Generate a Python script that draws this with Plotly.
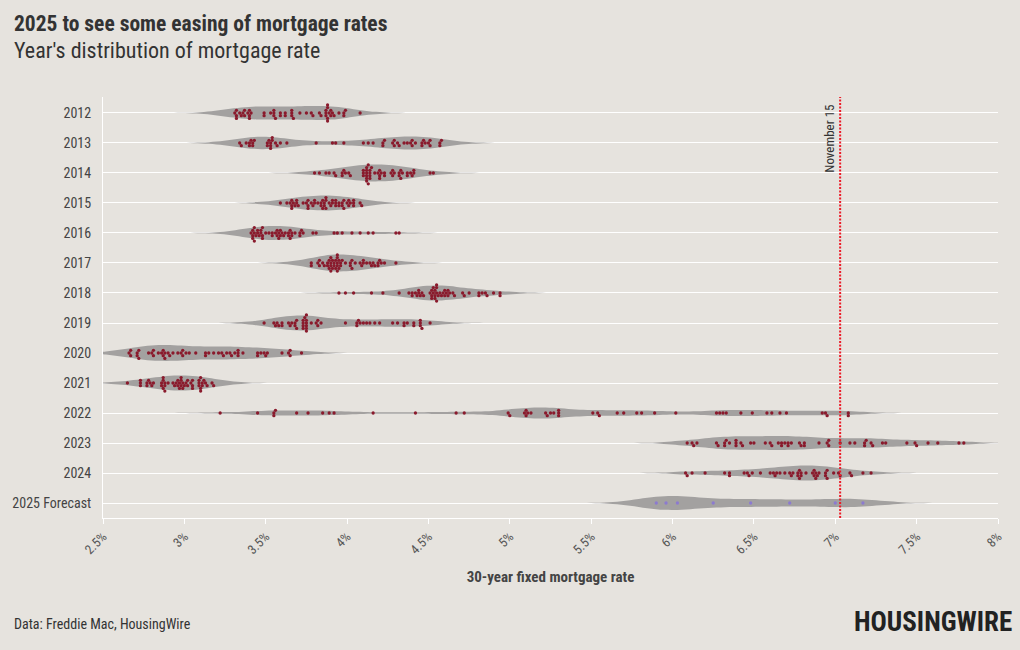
import numpy as np
import plotly.graph_objects as go

# ---------------- data (weekly 30-year fixed rates, %) ----------------
years = ["2012", "2013", "2014", "2015", "2016", "2017", "2018", "2019",
         "2020", "2021", "2022", "2023", "2024", "2025 Forecast"]

r2012 = [3.91, 3.89, 3.88, 3.98, 3.87, 3.87, 3.87, 3.95, 3.90, 3.88, 3.92, 4.08, 3.99,
         3.98, 3.88, 3.90, 3.88, 3.84, 3.83, 3.79, 3.78, 3.75, 3.67, 3.71, 3.66, 3.66,
         3.62, 3.56, 3.53, 3.49, 3.55, 3.59, 3.62, 3.66, 3.59, 3.55, 3.55, 3.49, 3.40,
         3.36, 3.39, 3.37, 3.41, 3.40, 3.40, 3.34, 3.31, 3.32, 3.32, 3.32, 3.37, 3.35]
r2013 = [3.34, 3.40, 3.38, 3.42, 3.53, 3.53, 3.53, 3.56, 3.51, 3.52, 3.63, 3.54, 3.57,
         3.54, 3.43, 3.41, 3.40, 3.35, 3.42, 3.51, 3.59, 3.81, 3.91, 3.98, 3.93, 4.46,
         4.29, 4.51, 4.37, 4.31, 4.39, 4.40, 4.40, 4.58, 4.51, 4.57, 4.57, 4.50, 4.32,
         4.22, 4.23, 4.28, 4.13, 4.10, 4.16, 4.35, 4.22, 4.29, 4.46, 4.42, 4.47, 4.48]
r2014 = [4.53, 4.51, 4.41, 4.39, 4.32, 4.23, 4.28, 4.33, 4.37, 4.28, 4.37, 4.32, 4.40,
         4.41, 4.34, 4.27, 4.33, 4.29, 4.21, 4.20, 4.14, 4.12, 4.14, 4.20, 4.17, 4.14,
         4.12, 4.15, 4.13, 4.13, 4.12, 4.14, 4.12, 4.10, 4.10, 4.10, 4.12, 4.23, 4.20,
         4.19, 4.12, 3.97, 3.92, 3.98, 4.02, 4.01, 3.99, 3.97, 3.89, 3.93, 3.80, 3.83, 3.87]
r2015 = [3.73, 3.66, 3.63, 3.66, 3.59, 3.69, 3.76, 3.80, 3.75, 3.86, 3.78, 3.69, 3.70,
         3.66, 3.67, 3.65, 3.68, 3.80, 3.85, 3.84, 3.87, 3.87, 4.04, 4.00, 4.02, 4.08,
         4.04, 4.09, 4.04, 3.98, 3.91, 3.93, 3.93, 3.84, 3.89, 3.90, 3.91, 3.86, 3.85,
         3.76, 3.82, 3.79, 3.76, 3.87, 3.98, 3.97, 3.95, 3.93, 3.95, 3.97, 4.01, 4.01]
r2016 = [3.97, 3.92, 3.81, 3.79, 3.72, 3.65, 3.65, 3.62, 3.64, 3.68, 3.73, 3.71, 3.71,
         3.59, 3.58, 3.59, 3.66, 3.61, 3.57, 3.58, 3.64, 3.66, 3.60, 3.54, 3.56, 3.48,
         3.41, 3.42, 3.45, 3.48, 3.43, 3.45, 3.43, 3.43, 3.46, 3.44, 3.50, 3.48, 3.42,
         3.42, 3.47, 3.52, 3.47, 3.54, 3.57, 3.94, 4.03, 4.08, 4.13, 4.16, 4.30, 4.32]
r2017 = [4.20, 4.12, 4.09, 4.19, 4.19, 4.17, 4.15, 4.16, 4.10, 4.21, 4.30, 4.23, 4.14,
         4.10, 4.08, 3.97, 4.03, 4.02, 4.05, 4.02, 3.95, 3.94, 3.89, 3.91, 3.90, 3.88,
         3.96, 4.03, 3.96, 3.92, 3.93, 3.90, 3.89, 3.86, 3.82, 3.78, 3.78, 3.83, 3.83,
         3.85, 3.91, 3.88, 3.94, 3.94, 3.90, 3.95, 3.92, 3.90, 3.94, 3.93, 3.94, 3.99]
r2018 = [3.95, 3.99, 4.04, 4.15, 4.22, 4.32, 4.38, 4.40, 4.43, 4.46, 4.44, 4.45, 4.44,
         4.40, 4.42, 4.47, 4.58, 4.55, 4.55, 4.61, 4.66, 4.56, 4.54, 4.62, 4.57, 4.55,
         4.52, 4.53, 4.52, 4.54, 4.60, 4.59, 4.53, 4.51, 4.52, 4.54, 4.60, 4.65, 4.72,
         4.71, 4.90, 4.85, 4.86, 4.83, 4.94, 4.94, 4.81, 4.81, 4.75, 4.63, 4.62, 4.55]
r2019 = [4.51, 4.45, 4.45, 4.45, 4.46, 4.41, 4.37, 4.35, 4.35, 4.41, 4.31, 4.28, 4.06,
         4.08, 4.12, 4.17, 4.20, 4.14, 4.10, 4.07, 4.06, 3.99, 3.82, 3.82, 3.84, 3.73,
         3.75, 3.75, 3.81, 3.75, 3.75, 3.60, 3.60, 3.55, 3.58, 3.49, 3.56, 3.73, 3.64,
         3.65, 3.57, 3.69, 3.75, 3.78, 3.69, 3.75, 3.66, 3.68, 3.68, 3.73, 3.73, 3.74]
r2020 = [3.72, 3.64, 3.65, 3.60, 3.51, 3.45, 3.47, 3.49, 3.45, 3.29, 3.36, 3.65, 3.50,
         3.33, 3.33, 3.31, 3.33, 3.23, 3.26, 3.28, 3.24, 3.15, 3.18, 3.21, 3.13, 3.13,
         3.07, 3.03, 2.98, 3.01, 2.99, 2.88, 2.96, 2.99, 2.91, 2.93, 2.86, 2.87, 2.90,
         2.88, 2.87, 2.81, 2.80, 2.81, 2.78, 2.84, 2.72, 2.72, 2.71, 2.71, 2.67, 2.66, 2.67]
r2021 = [2.65, 2.79, 2.77, 2.73, 2.73, 2.73, 2.81, 2.97, 3.02, 3.05, 3.09, 3.17, 3.18,
         3.13, 3.04, 2.97, 2.98, 2.96, 2.94, 3.00, 2.95, 2.99, 2.96, 2.93, 3.02, 2.98,
         2.90, 2.88, 2.78, 2.80, 2.77, 2.87, 2.86, 2.87, 2.87, 2.88, 2.86, 2.88, 3.01,
         2.99, 3.05, 3.09, 3.14, 3.09, 2.98, 3.10, 3.10, 3.11, 3.10, 3.12, 3.05, 3.11]
r2022 = [3.22, 3.45, 3.56, 3.55, 3.55, 3.69, 3.92, 3.89, 3.76, 3.85, 4.16, 4.42, 4.67,
         4.72, 5.00, 5.11, 5.10, 5.27, 5.30, 5.25, 5.10, 5.09, 5.23, 5.78, 5.81, 5.70,
         5.30, 5.51, 5.54, 5.30, 4.99, 5.22, 5.13, 5.55, 5.66, 5.89, 6.02, 6.29, 6.70,
         6.66, 6.92, 6.94, 7.08, 6.95, 7.08, 6.61, 6.58, 6.49, 6.33, 6.31, 6.27, 6.42]
r2023 = [6.48, 6.33, 6.15, 6.13, 6.09, 6.12, 6.32, 6.50, 6.65, 6.73, 6.60, 6.42, 6.32,
         6.28, 6.27, 6.39, 6.43, 6.39, 6.35, 6.39, 6.57, 6.79, 6.71, 6.69, 6.67, 6.71,
         6.81, 6.96, 6.78, 6.81, 6.90, 6.96, 7.09, 7.23, 7.18, 7.12, 7.18, 7.19, 7.31,
         7.49, 7.57, 7.63, 7.79, 7.76, 7.50, 7.44, 7.29, 7.22, 7.03, 6.95, 6.67, 6.61]
r2024 = [6.62, 6.66, 6.60, 6.69, 6.63, 6.64, 6.77, 6.90, 6.94, 6.88, 6.74, 6.87, 6.79,
         6.82, 6.88, 7.10, 7.17, 7.22, 7.09, 7.02, 6.94, 7.03, 6.99, 6.95, 6.87, 6.86,
         6.95, 6.89, 6.77, 6.78, 6.73, 6.47, 6.49, 6.46, 6.35, 6.35, 6.20, 6.09, 6.08,
         6.12, 6.32, 6.44, 6.54, 6.72, 6.79, 6.78]
r2025_forecast = [5.90, 5.96, 6.03, 6.25, 6.48, 6.72, 7.00, 7.17]

series = [r2012, r2013, r2014, r2015, r2016, r2017, r2018, r2019,
          r2020, r2021, r2022, r2023, r2024, r2025_forecast]

x_ticks = [2.5, 3, 3.5, 4, 4.5, 5, 5.5, 6, 6.5, 7, 7.5, 8]
x_tick_labels = ["2.5%", "3%", "3.5%", "4%", "4.5%", "5%", "5.5%", "6%",
                 "6.5%", "7%", "7.5%", "8%"]
marker_rate = 7.03
marker_label = "November 15"

# ---------------- styling ----------------
BG = "#e6e3de"
VIOLIN = "#a3a1a0"
DOT = "#8a1a2c"
DOT_FC = "#8c7ad0"
FONT = "Roboto Condensed, Liberation Sans Narrow, DejaVu Sans Condensed, Roboto, sans-serif"
violin_halfwidth_px = [7, 6.5, 8.5, 7.5, 7, 8.5, 7.5, 7.5, 8, 7.5, 5.5, 7, 7.5, 7]
violin_bandwidth = [0.14] * 13 + [0.16]
TAIL = 3.0

W, H = 1020, 650
ML, MR, MT, MB = 100, 22, 97, 132
XR = [2.5, 8.0]
YR = [13.5, -0.533]
px_per_pct = (W - ML - MR) / (XR[1] - XR[0])
px_per_row = (H - MT - MB) / (YR[0] - YR[1])
DOT_GAP = 2.7


def swarm(v):
    v = np.asarray(v, float)
    order = np.argsort(v, kind="stable")
    placed = []
    offs = np.zeros(len(v))
    cands = [0.0]
    for k in range(1, 30):
        cands += [k * DOT_GAP, -k * DOT_GAP]
    for i in order:
        xp = (v[i] - XR[0]) * px_per_pct
        for c in cands:
            ok = True
            for (px, py) in placed:
                if abs(px - xp) < DOT_GAP and (px - xp) ** 2 + (py - c) ** 2 < DOT_GAP ** 2 - 1e-9:
                    ok = False
                    break
            if ok:
                placed.append((xp, c))
                offs[i] = c
                break
    return offs / px_per_row


fig = go.Figure()
for i, (name, vals) in enumerate(zip(years, series)):
    bw = violin_bandwidth[i]
    fig.add_trace(go.Violin(
        x=vals, y0=i, orientation="h", name=name,
        side="both", points=False, box_visible=False, meanline_visible=False,
        fillcolor=VIOLIN, line=dict(width=0, color=VIOLIN), opacity=1,
        bandwidth=bw, spanmode="manual",
        span=[min(vals) - TAIL * bw, max(vals) + TAIL * bw],
        scalemode="width", width=2 * violin_halfwidth_px[i] / px_per_row,
        hoverinfo="skip", showlegend=False,
    ))

for i, (name, vals) in enumerate(zip(years, series)):
    offs = swarm(vals)
    fig.add_trace(go.Scatter(
        x=vals, y=[i + o for o in offs], mode="markers", name=name,
        marker=dict(size=3.3, color=DOT_FC if i == len(years) - 1 else DOT, line=dict(width=0)),
        showlegend=False, hoverinfo="x",
    ))

fig.add_shape(type="line", xref="x", yref="paper", x0=marker_rate, x1=marker_rate,
              y0=0, y1=1, line=dict(color="#ec1c28", width=2, dash="2px,1.5px"), layer="above")
fig.add_annotation(xref="x", yref="paper", x=marker_rate, y=1, xanchor="right", yanchor="top",
                   xshift=-2, yshift=-6, text=marker_label, textangle=-90, showarrow=False,
                   font=dict(family=FONT, size=13, color="#333333"))


def py(pxy):
    return (H - MB - pxy) / (H - MT - MB)


def pxx(pxv):
    return (pxv - ML) / (W - ML - MR)


fig.add_annotation(xref="paper", yref="paper", x=pxx(9), y=py(23), xanchor="left", yanchor="middle",
                   text="<b>2025 to see some easing of mortgage rates</b>", showarrow=False,
                   font=dict(family=FONT, size=21.5, color="#333333"))
fig.add_annotation(xref="paper", yref="paper", x=pxx(9), y=py(50), xanchor="left", yanchor="middle",
                   text="Year's distribution of mortgage rate", showarrow=False,
                   font=dict(family=FONT, size=22, color="#333333"))
fig.add_annotation(xref="paper", yref="paper", x=pxx(9), y=py(624), xanchor="left", yanchor="middle",
                   text="Data: Freddie Mac, HousingWire", showarrow=False,
                   font=dict(family=FONT, size=14, color="#333333"))
fig.add_annotation(xref="paper", yref="paper", x=pxx(1014), y=py(622), xanchor="right", yanchor="middle",
                   text="<b>HOUSINGWIRE</b>", showarrow=False,
                   font=dict(family=FONT, size=27, color="#222222", weight=900))

fig.update_layout(
    width=W, height=H, margin=dict(l=ML, r=MR, t=MT, b=MB),
    paper_bgcolor=BG, plot_bgcolor=BG, violinmode="overlay",
    font=dict(family=FONT, size=13, color="#444444"),
    xaxis=dict(range=XR, tickvals=x_ticks, ticktext=x_tick_labels, tickangle=-45,
               showgrid=False, zeroline=False, showline=True, linecolor="white", linewidth=1,
               ticks="outside", tickcolor="white", ticklen=5, tickfont=dict(size=13, color="#555555"),
               title=dict(text="<b>30-year fixed mortgage rate</b>", font=dict(size=15, color="#444444"),
                          standoff=15)),
    yaxis=dict(range=YR, tickvals=list(range(len(years))), ticktext=years,
               showgrid=True, gridcolor="white", gridwidth=1, zeroline=False,
               showline=True, linecolor="white", linewidth=1, ticks="outside", ticklen=8,
               tickcolor="rgba(0,0,0,0)", tickfont=dict(size=14, color="#444444")),
)

fig.write_html("out.html")
